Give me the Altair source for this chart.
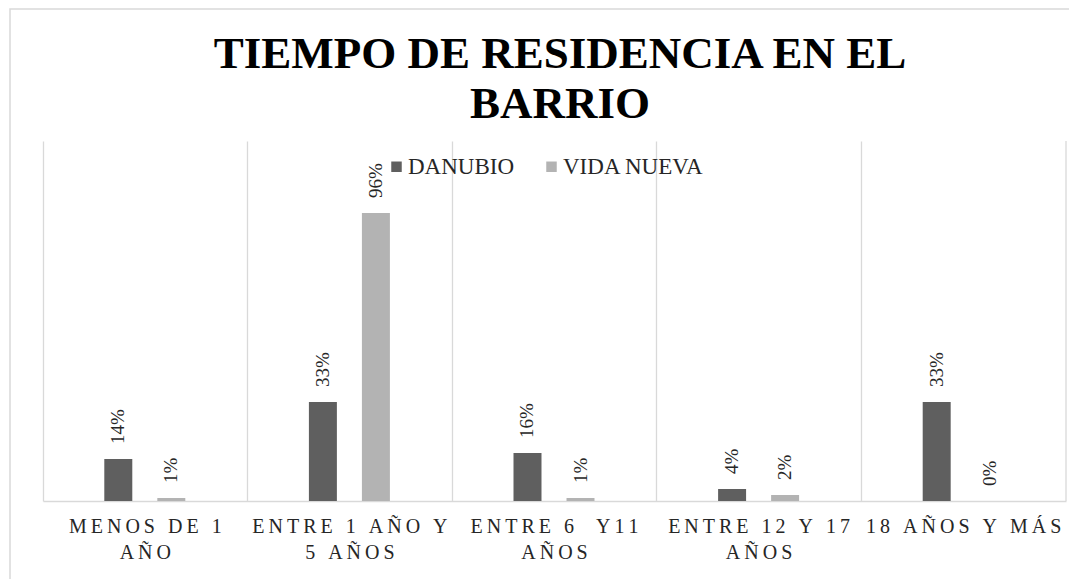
import altair as alt
import pandas as pd

title_lines = ["TIEMPO DE RESIDENCIA EN EL", "BARRIO"]
categories = ["MENOS DE 1 AÑO", "ENTRE 1 AÑO Y 5 AÑOS", "ENTRE 6  Y11 AÑOS",
              "ENTRE 12 Y 17 AÑOS", "18 AÑOS Y MÁS"]
label_lines = [["MENOS DE 1", "AÑO"], ["ENTRE 1 AÑO Y", "5 AÑOS"], ["ENTRE 6  Y11", "AÑOS"],
               ["ENTRE 12 Y 17", "AÑOS"], ["18 AÑOS Y MÁS"]]
series = ["DANUBIO", "VIDA NUEVA"]
danubio = [14, 33, 16, 4, 33]
vida_nueva = [1, 96, 1, 2, 0]
colors = ["#5f5f5f", "#b3b3b3"]

rows = []
for c, d, v in zip(categories, danubio, vida_nueva):
    rows.append({"cat": c, "serie": series[0], "value": d})
    rows.append({"cat": c, "serie": series[1], "value": v})
df = pd.DataFrame(rows)

SERIF = "Liberation Serif, Times New Roman, serif"
TS = "\u2009"


def spaced(s):
    return TS.join(list(s))


expr = "''"
for c, lines in reversed(list(zip(categories, label_lines))):
    arr = "[" + ",".join("'" + spaced(l) + "'" for l in lines) + "]"
    expr = f"datum.value == '{c}' ? {arr} : ({expr})"

x_enc = alt.X("cat:N", sort=categories, title=None,
              scale=alt.Scale(paddingInner=0, paddingOuter=0),
              axis=alt.Axis(labelExpr=expr, labelAngle=0, ticks=False, grid=True,
                            bandPosition=0, gridColor="#d9d9d9", gridWidth=1.3,
                            domainColor="#d9d9d9", domainWidth=1.3,
                            labelFont=SERIF, labelFontSize=20, labelColor="#262626",
                            labelPadding=15, labelLineHeight=26, labelLimit=300))
xoff = alt.XOffset("serie:N", sort=series,
                   scale=alt.Scale(paddingInner=0.472, paddingOuter=0, range=[61.3, 142.3]))
y_enc = alt.Y("value:Q", scale=alt.Scale(domain=[0, 120]), axis=None)

base = alt.Chart(df)

bars = base.mark_bar().encode(
    x=x_enc, xOffset=xoff, y=y_enc,
    color=alt.Color("serie:N", sort=series,
                    scale=alt.Scale(domain=series, range=colors),
                    legend=alt.Legend(title=None, orient="none", legendX=342, legendY=14,
                                      direction="horizontal", symbolType="square",
                                      symbolSize=110, symbolStrokeWidth=0,
                                      labelFont=SERIF, labelFontSize=23,
                                      labelColor="#262626", labelOffset=0,
                                      columnPadding=25)),
)

texts = base.mark_text(angle=270, align="left", baseline="middle", dx=15,
                       font=SERIF, fontSize=19, color="#262626").transform_calculate(
    lab="datum.value + '%'"
).encode(
    x=alt.X("cat:N", sort=categories), xOffset=xoff, y=y_enc,
    text="lab:N",
)

deco = pd.DataFrame({"k": [0]})
right_rule = alt.Chart(deco).mark_rule(color="#d9d9d9", strokeWidth=1.3).encode(
    x=alt.value(1023), y=alt.value(0), y2=alt.value(360))
border = alt.Chart(deco).mark_rect(fill=None, stroke="#d9d9d9", strokeWidth=1.5).encode(
    x=alt.value(-33), x2=alt.value(1100), y=alt.value(-132), y2=alt.value(520))
title = alt.Chart(deco).mark_text(font=SERIF, fontSize=45, fontWeight="bold",
                                  color="#000000", align="center", baseline="alphabetic",
                                  lineBreak="\n", lineHeight=50).encode(
    x=alt.value(517), y=alt.value(-73), text=alt.value("\n".join(title_lines)))

chart = alt.layer(border, title, bars, texts, right_rule).properties(
    width=1023, height=360,
    autosize=alt.AutoSizeParams(type="none"),
    padding={"left": 35, "top": 133, "right": 3, "bottom": 80},
).configure_view(stroke=None)

chart.save("out.html", embed_options={"renderer": "svg", "actions": False})
